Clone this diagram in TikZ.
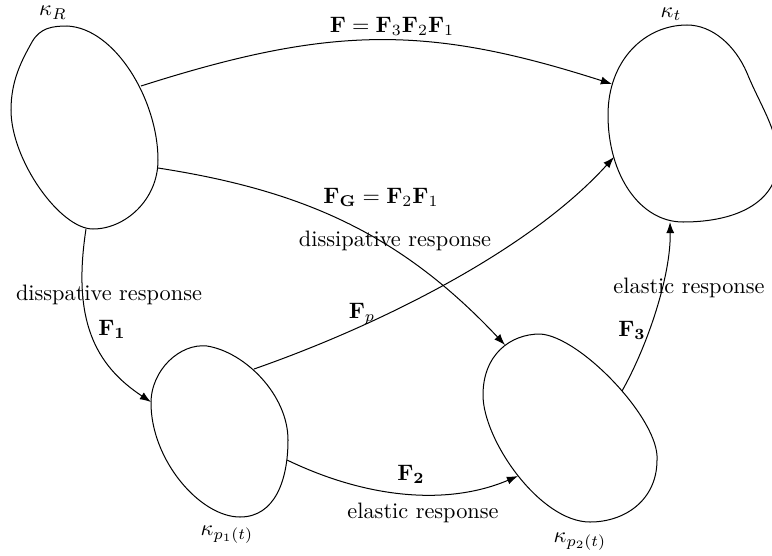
\documentclass[tikz,border=0pt]{standalone}
\usetikzlibrary{arrows.meta}
\begin{document}
\begin{tikzpicture}[x=0.448pt,y=-0.448pt,
  blob/.style={line width=0.45pt},
  arr/.style={line width=0.45pt,-{Latex[length=5pt,width=3.6pt]}},
  lbl/.style={anchor=base,inner sep=0pt}]
\useasboundingbox (0,0) rectangle (772,555);
\clip (0,0) rectangle (772,555);
% body kappa_R
\draw[blob] (67,26) .. controls (115,28) and (158,100) .. (158,160)
  .. controls (158,200) and (125,229) .. (93,229)
  .. controls (60,229) and (11,160) .. (11,110)
  .. controls (11,80) and (22,60) .. (32,42)
  .. controls (40,28) and (52,26) .. cycle;
% body kappa_t
\draw[blob] (687,25) .. controls (712,25) and (735,45) .. (747,73)
  .. controls (760,105) and (778,130) .. (778,160)
  .. controls (778,200) and (740,222) .. (683,222)
  .. controls (640,222) and (608,175) .. (608,115)
  .. controls (608,60) and (645,25) .. cycle;
% body kappa_p1
\draw[blob] (207,346) .. controls (245,352) and (288,395) .. (288,440)
  .. controls (288,480) and (275,517) .. (240,517)
  .. controls (200,517) and (151,460) .. (151,403)
  .. controls (151,370) and (180,343) .. cycle;
% body kappa_p2
\draw[blob] (540,334) .. controls (580,336) and (660,420) .. (657,460)
  .. controls (657,500) and (625,522) .. (590,522)
  .. controls (540,522) and (483,440) .. (483,395)
  .. controls (483,355) and (510,334) .. cycle;
% attachment points
\coordinate (R1) at (141,86);
\coordinate (R2) at (158,168);
\coordinate (R3) at (86,229);
\coordinate (T1) at (612,84);
\coordinate (T2) at (614,157);
\coordinate (T3) at (670,222);
\coordinate (A1) at (151,402);
\coordinate (A2) at (254,369);
\coordinate (A3) at (287,460);
\coordinate (B1) at (505,345);
\coordinate (B2) at (518,476);
\coordinate (B3) at (622,391);
% connectors
\draw[arr] (R1) .. controls (332,25) and (428,25) .. (T1);
\draw[arr] (R2) .. controls (300,190) and (399,232) .. (B1);
\draw[arr] (R3) .. controls (72,320) and (95,365) .. (A1);
\draw[arr] (A2) .. controls (380,325) and (530,250) .. (T2);
\draw[arr] (A3) .. controls (370,500) and (450,505) .. (B2);
\draw[arr] (B3) .. controls (648,345) and (671,275) .. (T3);
% labels
\node[lbl] (kR) at (53,16) {$\kappa_R$};
\node[lbl] (kt) at (671,17) {$\kappa_t$};
\node[lbl] (kp1) at (227,535) {$\kappa_{p_1(t)}$};
\node[lbl] (kp2) at (580,542) {$\kappa_{p_2(t)}$};
\node[lbl] (lF) at (392,32) {$\mathbf{F}=\mathbf{F}_3\mathbf{F}_2\mathbf{F}_1$};
\node[lbl] (lFG) at (381,203) {$\mathbf{F_G}=\mathbf{F}_2\mathbf{F}_1$};
\node[lbl] (lFGt) at (395,246) {dissipative response};
\node[lbl] (lF1t) at (109,300) {disspative response};
\node[lbl] (lF1) at (112,335) {$\mathbf{F_1}$};
\node[lbl] (lFp) at (362,318) {$\mathbf{F}_p$};
\node[lbl] (lF2) at (411,480) {$\mathbf{F_2}$};
\node[lbl] (lF2t) at (423,518) {elastic response};
\node[lbl] (lF3) at (632,336) {$\mathbf{F_3}$};
\node[lbl] (lF3t) at (689,293) {elastic response};
\end{tikzpicture}
\end{document}
